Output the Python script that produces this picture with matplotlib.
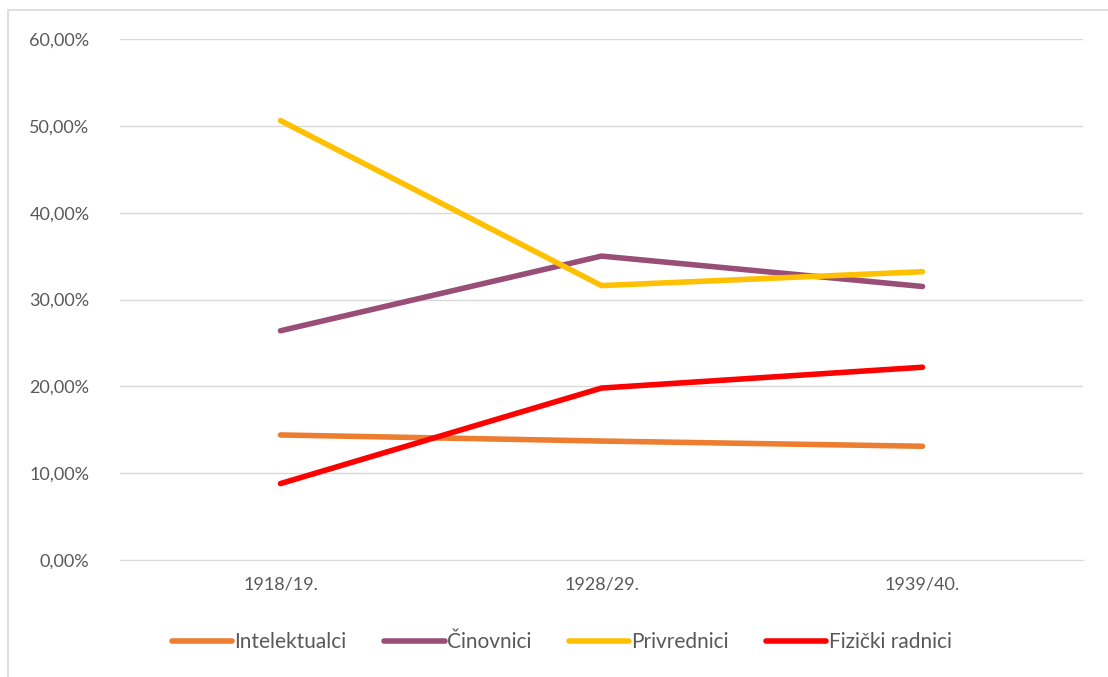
import matplotlib.pyplot as plt
from matplotlib.patches import Rectangle
from matplotlib.ticker import FuncFormatter

plt.rcParams['font.family'] = ['Lato', 'DejaVu Sans']

periods = ["1918/19.", "1928/29.", "1939/40."]
intelektualci = [14.4, 13.7, 13.1]
cinovnici = [26.4, 35.0, 31.5]
privrednici = [50.6, 31.6, 33.2]
fizicki = [8.8, 19.8, 22.2]

series = [
    ("Intelektualci", intelektualci, "#ED7D31"),
    ("Činovnici", cinovnici, "#984E76"),
    ("Privrednici", privrednici, "#FFC000"),
    ("Fizički radnici", fizicki, "#FF0000"),
]

fig = plt.figure(figsize=(11.08, 6.77), dpi=100)
ax = fig.add_axes([120 / 1108, 1 - 560 / 677, 963 / 1108, 521 / 677])

# light border around the chart area
fig.patches.append(Rectangle((8 / 1108, -0.05), 1.2, 1 - 10 / 677 + 0.05,
                             transform=fig.transFigure, fill=False,
                             edgecolor="#D9D9D9", linewidth=1.2))

x = [0.5, 1.5, 2.5]
for name, vals, color in series:
    ax.plot(x, vals, color=color, linewidth=4, solid_capstyle="round", label=name)

ax.set_xlim(0, 3)
ax.set_ylim(0, 60)
ax.set_yticks(range(0, 61, 10))
ax.yaxis.set_major_formatter(FuncFormatter(lambda v, p: f"{v:.2f}%".replace(".", ",")))
ax.set_xticks(x)
ax.set_xticklabels(periods)

ax.grid(axis="y", color="#D9D9D9", linewidth=1)
ax.set_axisbelow(True)
for s in ["top", "right", "left"]:
    ax.spines[s].set_visible(False)
ax.spines["bottom"].set_color("#D9D9D9")
ax.tick_params(length=0, labelsize=13, labelcolor="#595959")
ax.tick_params(axis="y", pad=22)
ax.tick_params(axis="x", pad=12)

fig.legend(loc="center", bbox_to_anchor=(0.507, 1 - 642 / 677), ncol=4,
           frameon=False, fontsize=15, labelcolor="#595959",
           handlelength=2.9, handletextpad=0.1, columnspacing=1.8)

fig.savefig("out.png", dpi=100)
